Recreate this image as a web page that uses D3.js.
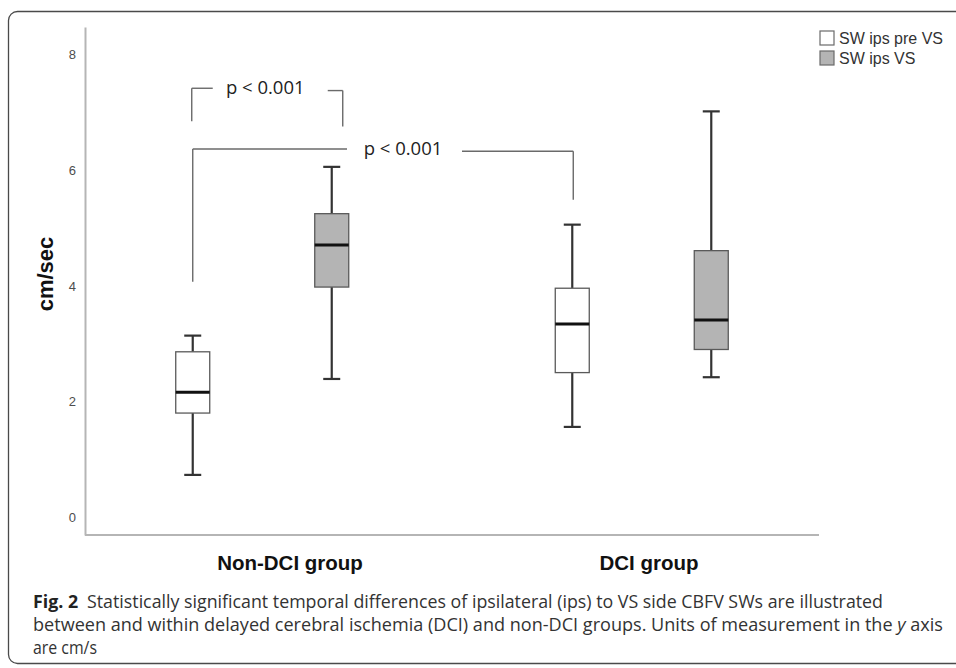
<!DOCTYPE html>
<html lang="en">
<head>
<meta charset="utf-8">
<title>SW ips boxplot</title>
<script src="https://cdn.jsdelivr.net/npm/d3@7"></script>
<style>
  body { margin: 0; background: #fff; }
  svg { display: block; }
</style>
</head>
<body>
<script>
// Groups and series
var groups = ["Non-DCI group", "DCI group"];
var seriesNames = ["SW ips pre VS", "SW ips VS"];
var seriesFill = ["#ffffff", "#b4b4b4"];

// Box stats (cm/sec), one value per group
var preVsMin = [0.73, 1.56];
var preVsQ1 = [1.80, 2.50];
var preVsMedian = [2.16, 3.34];
var preVsQ3 = [2.86, 3.96];
var preVsMax = [3.14, 5.06];

var vsMin = [2.39, 2.42];
var vsQ1 = [3.98, 2.90];
var vsMedian = [4.71, 3.41];
var vsQ3 = [5.25, 4.61];
var vsMax = [6.06, 7.02];

var yTicks = [0, 2, 4, 6, 8];
var pLabels = ["p < 0.001", "p < 0.001"];
var yLabel = "cm/sec";

var w = 956, h = 668;

// build rows for the boxes
var boxes = [];
groups.forEach(function(g, i) {
  boxes.push({group: g, series: seriesNames[0], min: preVsMin[i], q1: preVsQ1[i], med: preVsMedian[i], q3: preVsQ3[i], max: preVsMax[i]});
  boxes.push({group: g, series: seriesNames[1], min: vsMin[i], q1: vsQ1[i], med: vsMedian[i], q3: vsQ3[i], max: vsMax[i]});
});

var svg = d3.select("body").append("svg")
  .attr("width", w)
  .attr("height", h);

// outer frame (open on the right)
svg.append("rect")
  .attr("x", 8.5).attr("y", 11.5)
  .attr("width", 1000).attr("height", 652)
  .attr("rx", 9)
  .attr("fill", "none")
  .attr("stroke", "#4a4a4a")
  .attr("stroke-width", 1.3);

// scales
var yScale = d3.scaleLinear().domain([-0.31, 8.48]).range([535, 27]);
var xGroup = d3.scalePoint().domain(groups).range([85, 819]).padding(0.467);
var xSeries = d3.scalePoint().domain(seriesNames).range([-69.5, 69.5]);
var xLabel = d3.scalePoint().domain(groups).range([290, 649]);
var boxW = 34, capW = 17;

function bx(d) { return xGroup(d.group) + xSeries(d.series); }

// Y axis
var yAxis = d3.axisLeft(yScale).tickValues(yTicks).tickSize(0).tickPadding(9);
var gy = svg.append("g").attr("transform", "translate(85,0)").call(yAxis);
gy.select(".domain").attr("stroke", "#b5b5b5").attr("stroke-width", 2);
gy.selectAll("text")
  .attr("font-family", "Liberation Sans, Arial, sans-serif")
  .attr("font-size", 13)
  .attr("fill", "#4d4d4d");

// X axis line
svg.append("line")
  .attr("x1", 85).attr("x2", 819)
  .attr("y1", 535).attr("y2", 535)
  .attr("stroke", "#b5b5b5").attr("stroke-width", 2);

// X category labels
svg.selectAll(".cat")
  .data(groups)
  .enter().append("text")
  .attr("class", "cat")
  .attr("x", function(d) { return xLabel(d); })
  .attr("y", 570)
  .attr("text-anchor", "middle")
  .attr("font-family", "Liberation Sans, Arial, sans-serif")
  .attr("font-weight", "bold")
  .attr("font-size", 20.5)
  .attr("fill", "#111")
  .text(function(d) { return d; });

// Y axis label
svg.append("text")
  .attr("transform", "translate(53,274) rotate(-90)")
  .attr("text-anchor", "middle")
  .attr("font-family", "Liberation Sans, Arial, sans-serif")
  .attr("font-weight", "bold")
  .attr("font-size", 22)
  .attr("fill", "#111")
  .text(yLabel);

// whiskers
var bg = svg.selectAll(".box")
  .data(boxes)
  .enter().append("g")
  .attr("class", "box");

bg.append("line")
  .attr("x1", bx).attr("x2", bx)
  .attr("y1", function(d) { return yScale(d.max); })
  .attr("y2", function(d) { return yScale(d.q3); })
  .attr("stroke", "#333").attr("stroke-width", 2.2);
bg.append("line")
  .attr("x1", bx).attr("x2", bx)
  .attr("y1", function(d) { return yScale(d.q1); })
  .attr("y2", function(d) { return yScale(d.min); })
  .attr("stroke", "#333").attr("stroke-width", 2.2);
bg.append("line")
  .attr("x1", function(d) { return bx(d) - capW / 2; })
  .attr("x2", function(d) { return bx(d) + capW / 2; })
  .attr("y1", function(d) { return yScale(d.max); })
  .attr("y2", function(d) { return yScale(d.max); })
  .attr("stroke", "#333").attr("stroke-width", 2.2);
bg.append("line")
  .attr("x1", function(d) { return bx(d) - capW / 2; })
  .attr("x2", function(d) { return bx(d) + capW / 2; })
  .attr("y1", function(d) { return yScale(d.min); })
  .attr("y2", function(d) { return yScale(d.min); })
  .attr("stroke", "#333").attr("stroke-width", 2.2);

// boxes
bg.append("rect")
  .attr("x", function(d) { return bx(d) - boxW / 2; })
  .attr("y", function(d) { return yScale(d.q3); })
  .attr("width", boxW)
  .attr("height", function(d) { return yScale(d.q1) - yScale(d.q3); })
  .attr("fill", function(d) { return seriesFill[seriesNames.indexOf(d.series)]; })
  .attr("stroke", "#5a5a5a").attr("stroke-width", 1.3);

// medians
bg.append("line")
  .attr("x1", function(d) { return bx(d) - boxW / 2; })
  .attr("x2", function(d) { return bx(d) + boxW / 2; })
  .attr("y1", function(d) { return yScale(d.med); })
  .attr("y2", function(d) { return yScale(d.med); })
  .attr("stroke", "#111").attr("stroke-width", 3);

// significance brackets
var lineCol = "#6a6a6a";
function seg(x1, y1, x2, y2) {
  svg.append("line")
    .attr("x1", x1).attr("y1", y1).attr("x2", x2).attr("y2", y2)
    .attr("stroke", lineCol).attr("stroke-width", 1.4);
}
function pText(x, y, t) {
  svg.append("text")
    .attr("x", x).attr("y", y)
    .attr("text-anchor", "middle")
    .attr("font-family", "Open Sans, sans-serif")
    .attr("font-size", 18.5)
    .attr("fill", "#222")
    .text(t);
}

// within non-DCI: pre VS vs VS
var a1 = xGroup(groups[0]) + xSeries(seriesNames[0]) - 1;
var b1 = xGroup(groups[0]) + xSeries(seriesNames[1]) + 11;
seg(a1, yScale(7.42), a1, yScale(6.85));
seg(a1, yScale(7.42), a1 + 21, yScale(7.42));
seg(b1 - 15, yScale(7.38), b1, yScale(7.38));
seg(b1, yScale(7.38), b1, yScale(6.76));
pText((a1 + b1) / 2 - 2, 93.5, pLabels[0]);

// between groups: pre VS non-DCI vs pre VS DCI
var a2 = xGroup(groups[0]) + xSeries(seriesNames[0]);
var b2 = xGroup(groups[1]) + xSeries(seriesNames[0]) + 1;
seg(a2, yScale(6.37), a2, yScale(4.07));
seg(a2, yScale(6.37), 347, yScale(6.37));
seg(462, yScale(6.33), b2, yScale(6.33));
seg(b2, yScale(6.33), b2, yScale(5.49));
pText(403, 155, pLabels[1]);

// legend
var lg = svg.selectAll(".leg")
  .data(seriesNames)
  .enter().append("g")
  .attr("class", "leg")
  .attr("transform", function(d, i) { return "translate(820," + (31 + i * 20) + ")"; });
lg.append("rect")
  .attr("width", 14).attr("height", 14)
  .attr("fill", function(d, i) { return seriesFill[i]; })
  .attr("stroke", "#6a6a6a").attr("stroke-width", 1.2);
lg.append("text")
  .attr("x", 19).attr("y", 13)
  .attr("font-family", "Liberation Sans, Arial, sans-serif")
  .attr("font-size", 16)
  .attr("fill", "#333")
  .text(function(d) { return d; });

// caption
var cap = svg.append("g")
  .attr("font-family", "Open Sans, sans-serif")
  .attr("font-size", 18)
  .attr("fill", "#333");

var c1 = cap.append("text").attr("x", 33).attr("y", 608)
  .attr("textLength", 850).attr("lengthAdjust", "spacingAndGlyphs");
c1.append("tspan").attr("font-weight", "bold").attr("fill", "#222").text("Fig. 2");
c1.append("tspan").text("\u2002Statistically significant temporal differences of ipsilateral (ips) to VS side CBFV SWs are illustrated");

var c2 = cap.append("text").attr("x", 33).attr("y", 631)
  .attr("textLength", 910).attr("lengthAdjust", "spacingAndGlyphs");
c2.append("tspan").text("between and within delayed cerebral ischemia (DCI) and non-DCI groups. Units of measurement in the ");
c2.append("tspan").attr("font-style", "italic").text("y");
c2.append("tspan").text(" axis");

cap.append("text").attr("x", 33).attr("y", 654)
  .attr("textLength", 64).attr("lengthAdjust", "spacingAndGlyphs")
  .text("are cm/s");
</script>
</body>
</html>
